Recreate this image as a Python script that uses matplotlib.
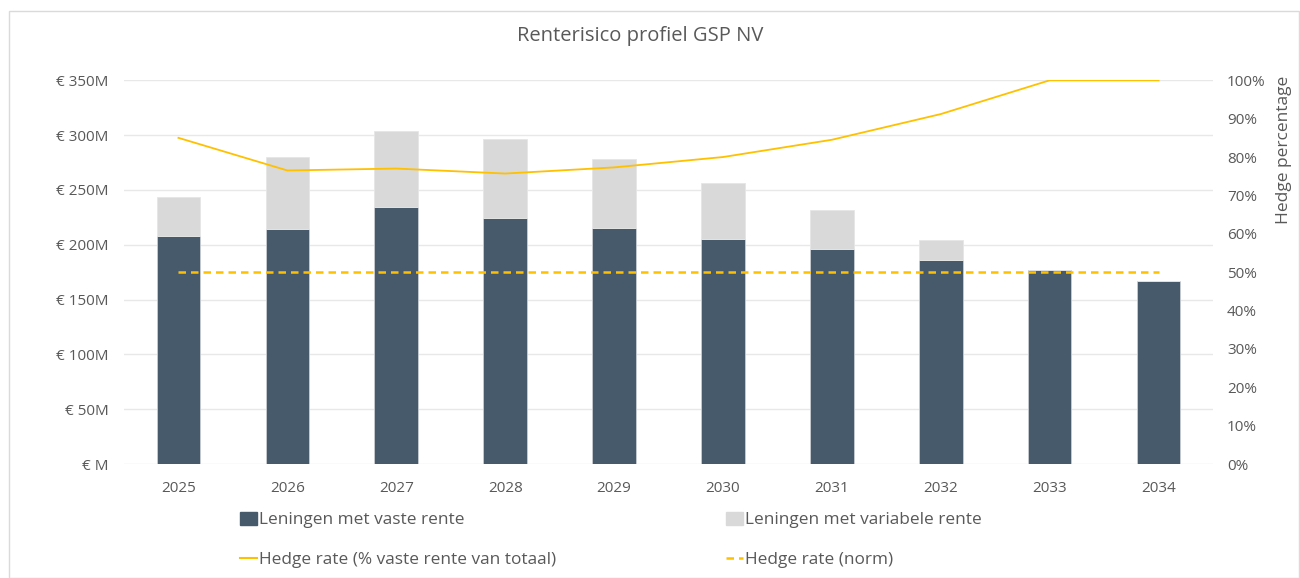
import matplotlib
matplotlib.use("Agg")
import matplotlib.pyplot as plt
from matplotlib.patches import Patch, Rectangle
from matplotlib.lines import Line2D
from matplotlib.ticker import FuncFormatter, MultipleLocator

plt.rcParams['font.family'] = ['Open Sans', 'DejaVu Sans']

years = ['2025', '2026', '2027', '2028', '2029', '2030', '2031', '2032', '2033', '2034']
vaste = [208, 214, 234, 224, 215, 205, 196, 186, 177, 167]          # € M
variabel = [36, 66, 70, 72, 63, 51, 36, 18, 0, 0]                   # € M
hedge_rate = [85.0, 76.5, 77.0, 75.7, 77.3, 80.0, 84.5, 91.2, 100.0, 100.0]  # %
hedge_norm = [50] * len(years)                                       # %

c_fixed = '#475A6C'
c_var = '#D9D9D9'
c_gold = '#FFC000'
c_text = '#595959'
c_grid = '#E8E8E8'

fig = plt.figure(figsize=(13, 5.78), dpi=100)
fig.patches.append(Rectangle((9/1300, 0), (1299-9)/1300, 1-11/578, transform=fig.transFigure,
                             fill=False, edgecolor='#DADADA', linewidth=1, zorder=0))
ax = fig.add_axes([124/1300, 1-464/578, (1213-124)/1300, (464-80.3)/578])
ax2 = ax.twinx()

x = list(range(len(years)))
ax.bar(x, vaste, width=0.4, color=c_fixed, edgecolor='#C8CDD2', linewidth=0.6, zorder=3)
ax.bar(x, variabel, width=0.4, bottom=vaste, color=c_var, edgecolor='#E6E6E6', linewidth=0.6, zorder=3)

ax.set_xlim(-0.5, len(years) - 0.5)
ax.set_ylim(0, 350)
ax.yaxis.set_major_locator(MultipleLocator(50))
ax.yaxis.set_major_formatter(FuncFormatter(lambda v, p: '€ M' if v == 0 else f'€ {int(v)}M'))
ax.set_xticks(x)
ax.set_xticklabels(years)
ax.grid(axis='y', color=c_grid, linewidth=1, zorder=0)
ax.set_axisbelow(True)
for s in ax.spines.values():
    s.set_visible(False)
for s in ax2.spines.values():
    s.set_visible(False)
ax.tick_params(axis='both', length=0, labelsize=11, colors=c_text)
ax.tick_params(axis='y', pad=11)
ax.tick_params(axis='x', pad=12)

ax2.plot(x, hedge_rate, color=c_gold, linewidth=1.3, zorder=5)
ax2.plot(x, hedge_norm, color=c_gold, linewidth=1.8, linestyle=(0, (3, 2)), zorder=5)
ax2.set_ylim(0, 100)
ax2.yaxis.set_major_locator(MultipleLocator(10))
ax2.yaxis.set_major_formatter(FuncFormatter(lambda v, p: f'{int(v)}%'))
ax2.tick_params(axis='y', length=0, labelsize=11, colors=c_text, pad=10)

fig.text(1284/1300, 1-150/578, 'Hedge percentage', rotation=90, ha='center', va='center',
         fontsize=12.5, color=c_text)

fig.text(640/1300, 1-36/578, 'Renterisico profiel GSP NV', ha='center', va='center',
         fontsize=14.5, color=c_text)

leg_kw = dict(frameon=False, fontsize=12.4, handlelength=1.0, handleheight=0.75,
              handletextpad=0.12, labelspacing=1.35, labelcolor=c_text, borderpad=0,
              borderaxespad=0)
h1 = [Patch(facecolor=c_fixed, edgecolor=c_fixed), Line2D([], [], color=c_gold, linewidth=1.5)]
l1 = ['Leningen met vaste rente', 'Hedge rate (% vaste rente van totaal)']
h2 = [Patch(facecolor=c_var, edgecolor=c_var), Line2D([], [], color=c_gold, linewidth=1.8, linestyle=(0, (3, 2)))]
l2 = ['Leningen met variabele rente', 'Hedge rate (norm)']
fig.legend(h1, l1, loc='upper left', bbox_to_anchor=(240/1300, 1-512/578), **leg_kw)
fig.legend(h2, l2, loc='upper left', bbox_to_anchor=(726/1300, 1-512/578), **leg_kw)

fig.savefig('out.png', dpi=100, facecolor='white')
